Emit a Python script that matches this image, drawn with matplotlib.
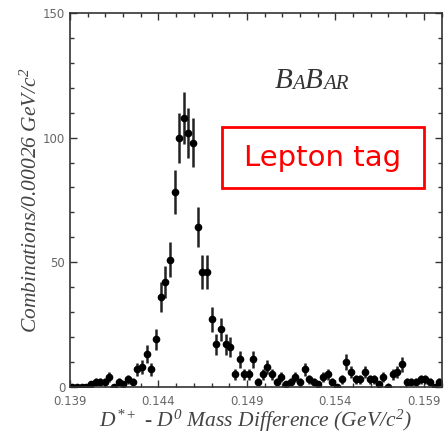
import numpy as np
import matplotlib
matplotlib.use('Agg')
from matplotlib import pyplot as plt
from matplotlib.patches import Rectangle
from matplotlib.ticker import MultipleLocator

plt.rcParams['mathtext.fontset'] = 'custom'
plt.rcParams['mathtext.rm'] = 'Liberation Serif:italic'
plt.rcParams['mathtext.it'] = 'Liberation Serif:italic'

#%% Data: D*+ - D0 mass difference, 80 bins from 0.139 to 0.160 GeV/c^2
x_lo = 0.139
x_hi = 0.160
n_bins = 80
counts = [0, 0, 0, 0, 1, 2, 2, 2, 4, 0,
          2, 1, 3, 2, 7, 8, 13, 7, 19, 36,
          42, 51, 78, 100, 108, 102, 98, 64, 46, 46,
          27, 17, 23, 17, 16, 5, 11, 5, 5, 11,
          2, 5, 8, 5, 2, 4, 1, 2, 4, 2,
          7, 3, 2, 1, 4, 5, 2, 0, 3, 10,
          6, 3, 3, 6, 3, 3, 1, 4, 0, 5,
          6, 9, 2, 2, 2, 3, 3, 2, 0, 2]
xticks = [0.139, 0.144, 0.149, 0.154, 0.159]
yticks = [0, 50, 100, 150]

edges = np.linspace(x_lo, x_hi, n_bins + 1)
centers = 0.5 * (edges[:-1] + edges[1:])
width = edges[1] - edges[0]
y = np.array(counts, dtype=float)

#%% Plot
fig = plt.figure(figsize=(4.46, 4.37), dpi=100)
ax = fig.add_axes([0.157, 0.115, 0.833, 0.855])

ax.errorbar(centers, y, yerr=np.sqrt(y), xerr=width / 2, fmt='o', color='black',
            ecolor='#222222', elinewidth=1.8, capsize=0, markersize=4.5)

ax.set_xlim(x_lo, x_hi)
ax.set_ylim(0, 150)
ax.set_xticks(xticks)
ax.set_xticklabels(['%.3f' % v for v in xticks])
ax.set_yticks(yticks)
ax.xaxis.set_minor_locator(MultipleLocator(0.001))
ax.yaxis.set_minor_locator(MultipleLocator(10))
ax.tick_params(which='both', direction='in', top=True, right=True,
               labelsize=8.5, labelcolor='#666666', color='#333333')
ax.tick_params(which='major', length=5, width=1)
ax.tick_params(which='minor', length=3, width=1)
ax.tick_params(axis='x', pad=6)
for s in ax.spines.values():
    s.set_linewidth(1.2)
    s.set_color('#333333')

lab_font = dict(family='Liberation Serif', style='italic', color='#444444')
ax.set_xlabel(r'$D^{*+}$ - $D^{0}$ Mass Difference (GeV/$c^{2}$)',
              fontsize=15.5, labelpad=0, **lab_font)
ax.set_ylabel(r'Combinations/0.00026 GeV/$c^{2}$',
              fontsize=15.5, labelpad=1, **lab_font)

# BaBar logo with small capitals
logo = dict(family='Liberation Serif', style='italic', color='#333333')
t1 = ax.text(0.551, 0.80, 'B', transform=ax.transAxes, fontsize=21, **logo)
t2 = ax.annotate('A', xy=(1, 0), xycoords=t1, fontsize=15, va='bottom', **logo)
t3 = ax.annotate('B', xy=(1, 0), xycoords=t2, fontsize=21, va='bottom', **logo)
ax.annotate('AR', xy=(1, 0), xycoords=t3, fontsize=15, va='bottom', **logo)

# Lepton tag box
fig.patches.append(Rectangle((222 / 446, 1 - 188 / 437), 202 / 446, 61 / 437,
                             transform=fig.transFigure, fill=False,
                             edgecolor='red', linewidth=2))
fig.text(323 / 446, 1 - 158 / 437, 'Lepton tag', color='red', fontsize=21,
         ha='center', va='center', family='DejaVu Sans')

fig.savefig('out.png', dpi=100)
